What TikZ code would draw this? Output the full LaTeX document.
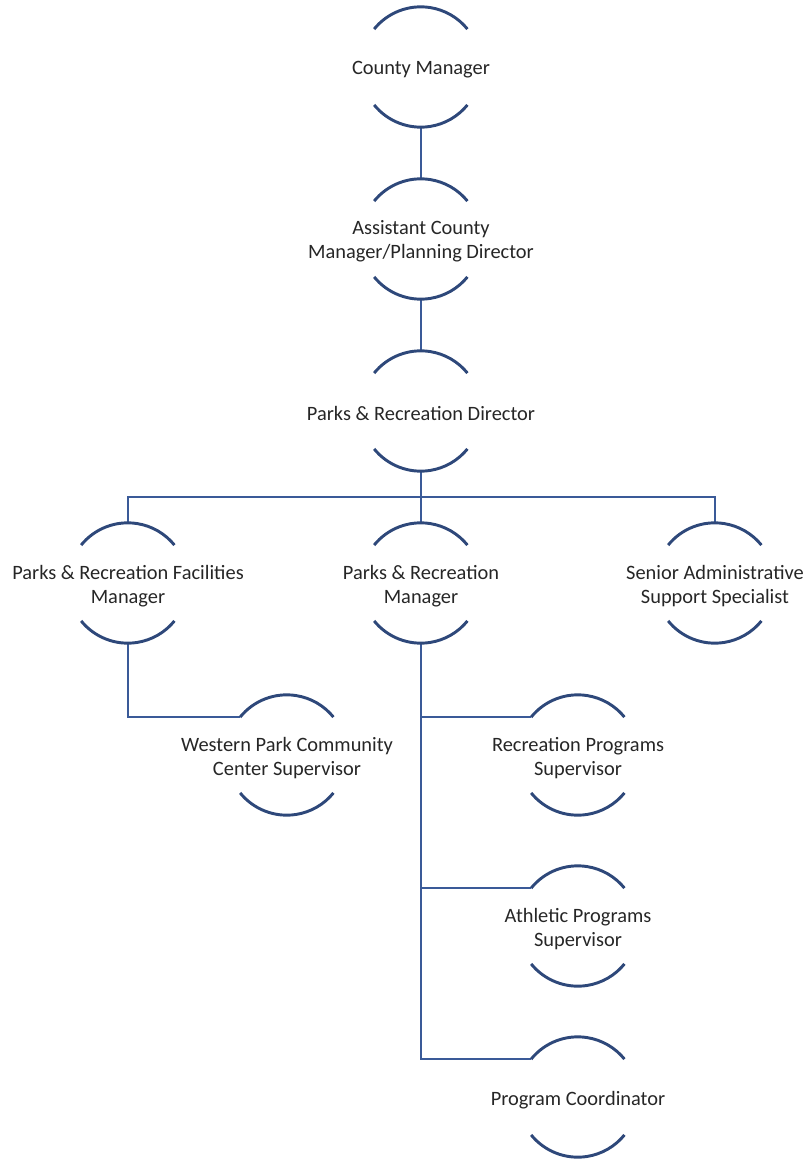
\documentclass[tikz,border=0pt]{standalone}
\usepackage{fontspec}
\setmainfont{Carlito}
\usetikzlibrary{calc}
\definecolor{arcblue}{RGB}{46,72,122}
\definecolor{linkblue}{RGB}{58,90,152}
\definecolor{inkgrey}{RGB}{38,38,38}
\begin{document}
\begin{tikzpicture}[x=0.75pt,y=-0.75pt,
    seat/.style={circle,minimum size=90pt,inner sep=0pt},
    title/.style={align=center,text=inkgrey,yshift=-2pt,font=\fontsize{15.3}{18}\selectfont},
    arcline/.style={arcblue,line width=2.2pt},
    link/.style={linkblue,line width=2.1pt}]
    \useasboundingbox (0,0) rectangle (808,1162);
    \node[seat,label={[title]center:County Manager}] (cm) at (421,67) {};
    \node[seat,label={[title]center:{Assistant County\\Manager/Planning Director}}] (acm) at (421,239) {};
    \node[seat,label={[title]center:Parks \& Recreation Director}] (prd) at (421,411) {};
    \node[seat,label={[title]center:{Parks \& Recreation Facilities\\Manager}}] (fm) at (128,583) {};
    \node[seat,label={[title]center:{Parks \& Recreation\\Manager}}] (prm) at (421,583) {};
    \node[seat,label={[title]center:{Senior Administrative\\Support Specialist}}] (sas) at (715,583) {};
    \node[seat,label={[title]center:{Western Park Community\\Center Supervisor}}] (wp) at (287,755) {};
    \node[seat,label={[title]center:{Recreation Programs\\Supervisor}}] (rps) at (578,755) {};
    \node[seat,label={[title]center:{Athletic Programs\\Supervisor}}] (aps) at (578,926) {};
    \node[seat,label={[title]center:Program Coordinator}] (pc) at (578,1097) {};
    \coordinate (bus) at ($(prd.south)!.5!(prm.north)$);
    % reporting lines
    \draw[link] (cm.south) -- (acm.north);
    \draw[link] (acm.south) -- (prd.north);
    \draw[link] (prd.south) -- (prm.north);
    \draw[link] (fm.north) |- (bus) -| (sas.north);
    \draw[link] (fm.south) |- (wp.141);
    \foreach \n in {rps,aps,pc} {
      \draw[link] (prm.south) |- (\n.141);
    }
    % arcs above and below each title
    \foreach \n in {cm,acm,prd,fm,prm,sas,wp,rps,aps,pc} {
      \draw[arcline] (\n.141) arc[start angle=141,end angle=39,radius=45pt];
      \draw[arcline] (\n.219) arc[start angle=219,end angle=321,radius=45pt];
    }
  \end{tikzpicture}
\end{document}
